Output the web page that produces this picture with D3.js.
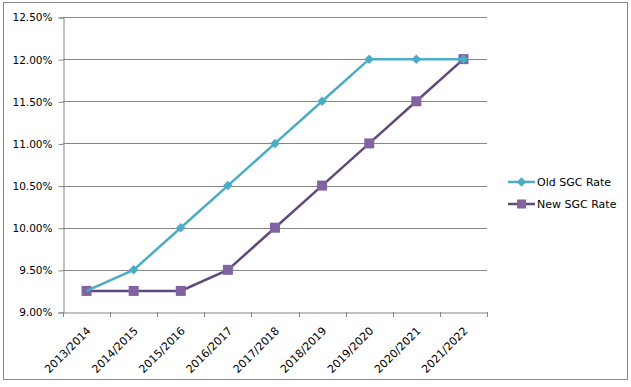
<!DOCTYPE html>
<html>
<head>
<meta charset="utf-8">
<script src="https://cdn.jsdelivr.net/npm/d3@7/dist/d3.min.js"></script>
<style>
  body { margin: 0; background: #fff; }
  svg text { font-family: "DejaVu Sans", Verdana, sans-serif; fill: #000; }
</style>
</head>
<body>
<div id="container"></div>
<script>
const years = ['2013/2014', '2014/2015', '2015/2016', '2016/2017', '2017/2018',
  '2018/2019', '2019/2020', '2020/2021', '2021/2022'];
const oldRate = [9.25, 9.5, 10.0, 10.5, 11.0, 11.5, 12.0, 12.0, 12.0];
const newRate = [9.25, 9.25, 9.25, 9.5, 10.0, 10.5, 11.0, 11.5, 12.0];
const yTicks = [9.0, 9.5, 10.0, 10.5, 11.0, 11.5, 12.0, 12.5];
const seriesNames = ['Old SGC Rate', 'New SGC Rate'];

const width = 631;
const height = 387;
const plotLeft = 63;
const plotRight = 487;
const plotTop = 17;
const plotBottom = 312;

const oldColor = '#4BACC6';
const newLine = '#604A7B';
const newMarker = '#8064A2';

const svg = d3
  .select('#container')
  .append('svg')
  .attr('width', width)
  .attr('height', height);

// outer border
svg
  .append('rect')
  .attr('x', 3.5)
  .attr('y', 2.5)
  .attr('width', 624)
  .attr('height', 377)
  .attr('fill', '#fff')
  .attr('stroke', '#888')
  .attr('stroke-width', 1);

// scales
const xScale = d3
  .scaleBand()
  .domain(years)
  .range([plotLeft, plotRight]);

const yScale = d3
  .scaleLinear()
  .domain([9, 12.5])
  .range([plotBottom, plotTop]);

// gridlines
svg
  .append('g')
  .selectAll('line')
  .data(yTicks.slice(1))
  .enter()
  .append('line')
  .attr('x1', plotLeft)
  .attr('x2', plotRight)
  .attr('y1', d => Math.round(yScale(d)) + 0.5)
  .attr('y2', d => Math.round(yScale(d)) + 0.5)
  .attr('stroke', '#868686');

// Y-AXIS
const yAxis = d3
  .axisLeft(yScale)
  .tickValues(yTicks)
  .tickFormat(d => d.toFixed(2) + '%')
  .tickSize(5)
  .tickPadding(6);

const yG = svg
  .append('g')
  .attr('transform', `translate(${plotLeft + 0.5}, 0.5)`)
  .call(yAxis);
yG.select('.domain').attr('stroke', '#868686');
yG.selectAll('.tick line').attr('stroke', '#868686');
yG.selectAll('.tick text')
  .attr('font-size', 10.5)
  .attr('font-family', '"DejaVu Sans", sans-serif')
  .attr('fill', '#000');

// X-AXIS
const xAxis = d3
  .axisBottom(xScale)
  .tickSize(0)
  .tickFormat(d => d);

const xG = svg
  .append('g')
  .attr('transform', `translate(0, ${plotBottom + 0.5})`)
  .call(xAxis);
xG.select('.domain').attr('stroke', '#868686');
xG.selectAll('.tick text')
  .attr('font-size', 11)
  .attr('font-family', '"DejaVu Sans", sans-serif')
  .attr('fill', '#000')
  .attr('text-anchor', 'end')
  .attr('y', 0)
  .attr('dy', 0)
  .attr('transform', 'translate(5, 19) rotate(-45)');

// category ticks on the boundaries
svg
  .append('g')
  .selectAll('line')
  .data(years.concat(['end']))
  .enter()
  .append('line')
  .attr('x1', (d, i) => Math.round(plotLeft + i * xScale.step()) + 0.5)
  .attr('x2', (d, i) => Math.round(plotLeft + i * xScale.step()) + 0.5)
  .attr('y1', plotBottom)
  .attr('y2', plotBottom + 5)
  .attr('stroke', '#868686');

const cx = d => xScale(d) + xScale.bandwidth() / 2;

const line = d3
  .line()
  .x(d => cx(d.year))
  .y(d => yScale(d.value));

const oldData = years.map((y, i) => ({ year: y, value: oldRate[i] }));
const newData = years.map((y, i) => ({ year: y, value: newRate[i] }));

// New SGC Rate
svg
  .append('path')
  .datum(newData)
  .attr('d', line)
  .attr('fill', 'none')
  .attr('stroke', newLine)
  .attr('stroke-width', 2.5);

svg
  .append('g')
  .selectAll('rect')
  .data(newData)
  .enter()
  .append('rect')
  .attr('x', d => cx(d.year) - 5)
  .attr('y', d => yScale(d.value) - 5)
  .attr('width', 10)
  .attr('height', 10)
  .attr('fill', newMarker);

// Old SGC Rate
svg
  .append('path')
  .datum(oldData)
  .attr('d', line)
  .attr('fill', 'none')
  .attr('stroke', oldColor)
  .attr('stroke-width', 2.5);

// square turned 45deg, like the Excel diamond marker
const diamond = d3.symbol().type(d3.symbolSquare).size(45);

svg
  .append('g')
  .selectAll('path')
  .data(oldData.slice(1))
  .enter()
  .append('path')
  .attr('d', diamond)
  .attr('transform', d => `translate(${cx(d.year)}, ${yScale(d.value)}) rotate(45)`)
  .attr('fill', oldColor);

// Legend
const legend = svg
  .append('g')
  .selectAll('g')
  .data(seriesNames)
  .enter()
  .append('g')
  .attr('transform', (d, i) => `translate(508, ${182 + i * 22})`);

legend
  .append('line')
  .attr('x1', 0)
  .attr('x2', 27)
  .attr('stroke', (d, i) => (i === 0 ? oldColor : newLine))
  .attr('stroke-width', 2.5);

legend
  .filter((d, i) => i === 0)
  .append('path')
  .attr('d', diamond)
  .attr('transform', 'translate(13.5, 0) rotate(45)')
  .attr('fill', oldColor);

legend
  .filter((d, i) => i === 1)
  .append('rect')
  .attr('x', 9)
  .attr('y', -4.5)
  .attr('width', 9)
  .attr('height', 9)
  .attr('fill', newMarker);

legend
  .append('text')
  .attr('x', 29)
  .attr('dy', '0.35em')
  .attr('font-size', 11)
  .text(d => d);
</script>
</body>
</html>
